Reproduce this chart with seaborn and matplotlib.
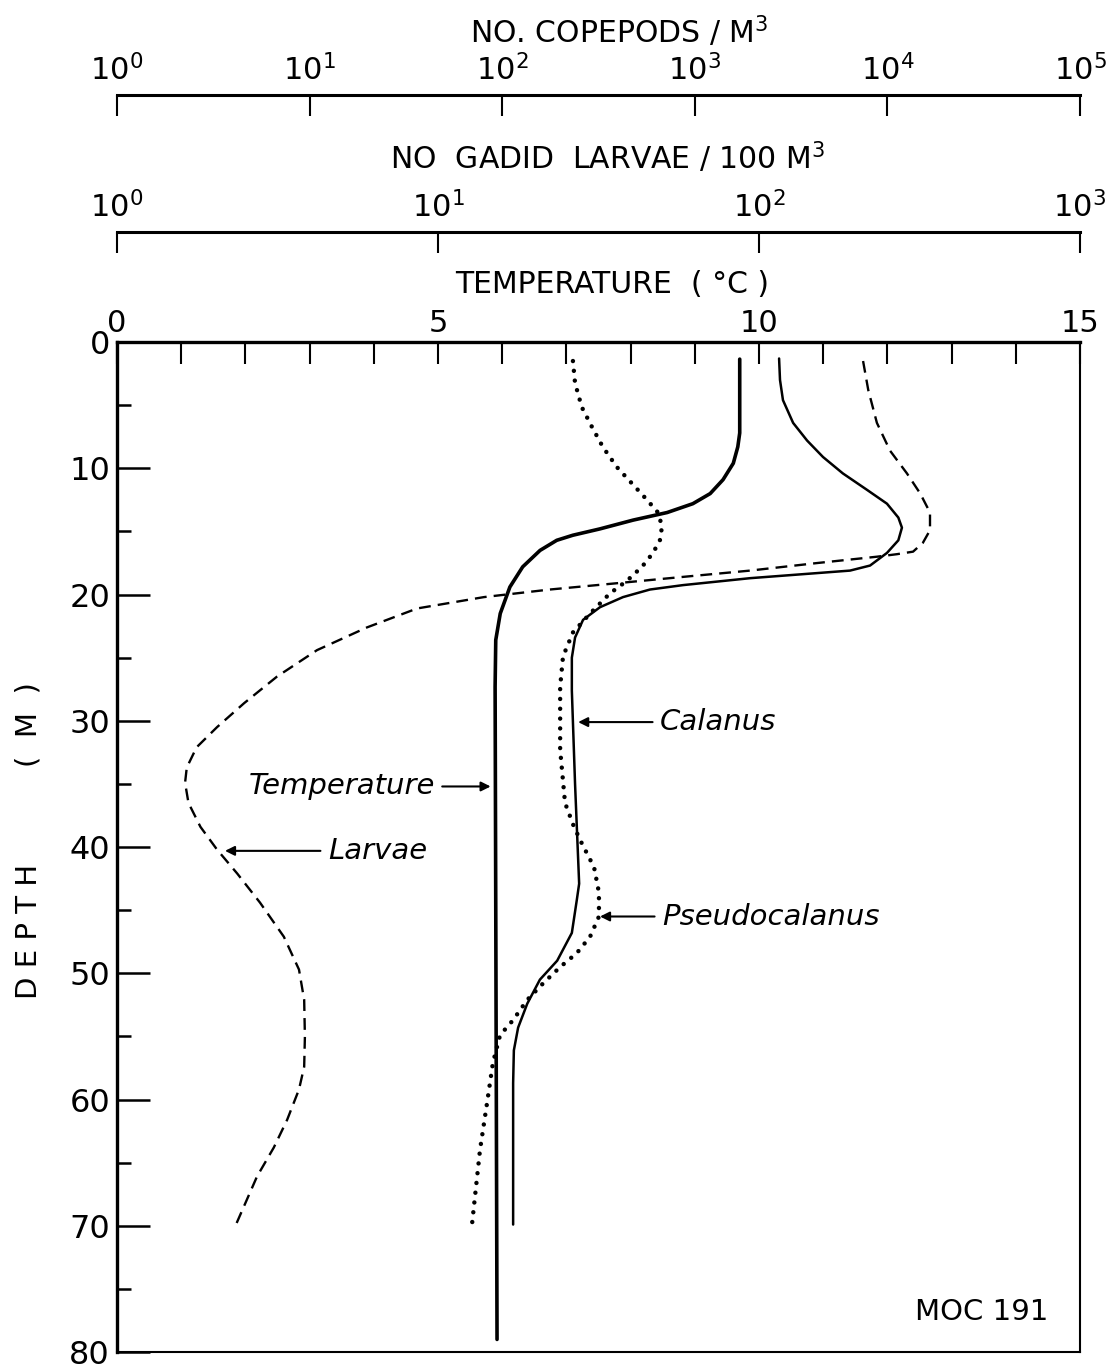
import matplotlib
matplotlib.use("Agg")
import matplotlib.pyplot as plt
from matplotlib.ticker import MultipleLocator, NullLocator, LogLocator
import seaborn as sns

# temperature profile (deg C)
temp_depth = [1.35, 7.2, 8.3, 9.6, 10.9, 12.0, 12.8, 13.5, 14.1, 14.8, 15.3, 15.7, 16.5, 17.8,
              19.4, 21.5, 23.6, 27.3, 79.0]
temp_val = [9.70, 9.70, 9.67, 9.60, 9.44, 9.24, 8.97, 8.57, 8.04, 7.52, 7.10, 6.85, 6.59, 6.32,
            6.12, 5.97, 5.90, 5.89, 5.92]

# Calanus, no. / m3
cal_depth = [1.3, 3.0, 4.6, 6.4, 7.8, 9.1, 10.4, 11.7, 12.8, 13.9, 14.7, 15.7, 16.7, 17.7, 18.1,
             18.3, 18.7, 19.25, 19.6, 20.2, 21.0, 22.0, 23.4, 25.0, 27.6, 35.0, 42.9, 44.2,
             46.8, 49.0, 50.5, 52.4, 54.3, 56.1, 58.7, 69.9]
cal_val = [2740, 2770, 2870, 3240, 3830, 4630, 5870, 7830, 9950, 11400, 11900, 11400, 9950, 8130,
           6400, 4300, 1940, 869, 585, 424, 322, 263, 239, 230, 230, 239, 251, 244,
           230, 193, 157, 135, 121, 115, 114, 114]

# Pseudocalanus, no. / m3
pse_depth = [1.5, 3.25, 5.15, 6.7, 8.3, 9.9, 11.2, 12.5, 13.5, 14.6, 15.7, 16.7, 17.8, 18.9, 19.9,
             21.5, 23.0, 24.9, 27.3, 32.3, 36.5, 38.4, 39.7, 41.6, 43.6, 45.5, 47.1, 48.4, 49.5,
             50.8, 52.1, 53.7, 54.9, 57.1, 60.3, 64.0, 69.9]
pse_val = [233, 239, 259, 292, 333, 394, 472, 565, 644, 676, 659, 607, 532, 445, 363,
           286, 233, 207, 200, 200, 212, 236, 259, 300, 318, 318, 286, 244, 200,
           163, 135, 114, 97.5, 89.5, 83.4, 76.7, 69.7]

# gadid larvae, no. / 100 m3
lar_depth = [1.5, 3.8, 6.4, 8.6, 10.4, 12.0, 13.5, 14.9, 15.9, 16.6, 16.8, 17.0, 17.5, 18.1, 18.6,
             19.1, 19.6, 20.2, 21.1, 22.6, 24.4, 26.5, 28.6, 30.5, 32.1, 33.7, 34.9, 36.5, 38.4,
             40.2, 42.1, 44.4, 47.1, 49.7, 52.1, 55.0, 57.4, 59.2, 61.6, 63.8, 66.1, 70.1]
lar_val = [211, 219, 233, 256, 289, 318, 341, 341, 324, 302, 269, 233, 152, 93.8, 57.9,
           36.1, 22.3, 13.9, 8.61, 6.01, 4.20, 3.15, 2.49, 2.05, 1.77, 1.65, 1.63, 1.67, 1.82,
           2.05, 2.37, 2.79, 3.31, 3.69, 3.83, 3.85, 3.83, 3.69, 3.39, 3.08, 2.73, 2.33]

sns.set_theme(style="white", rc={'text.color': 'black', 'xtick.color': 'black',
                                 'ytick.color': 'black', 'axes.labelcolor': 'black'})
plt.rcParams['font.family'] = ['DejaVu Sans']
plt.rcParams['mathtext.fontset'] = 'dejavusans'

fig = plt.figure(figsize=(11.15, 13.7), dpi=100)
ax = fig.add_axes([0.1049, 0.0131, 0.8637, 0.7372])
ax_cop = ax.twiny()
ax_lar = ax.twiny()

ax.set_xlim(0, 15)
ax.set_ylim(80, 0)
ax_cop.set_xscale('log')
ax_cop.set_xlim(1, 1e5)
ax_lar.set_xscale('log')
ax_lar.set_xlim(1, 1e3)

# curves
sns.lineplot(x=temp_val, y=temp_depth, sort=False, estimator=None, ax=ax,
             color='black', lw=2.6, solid_joinstyle='round')
sns.lineplot(x=cal_val, y=cal_depth, sort=False, estimator=None, ax=ax_cop,
             color='black', lw=1.8, solid_joinstyle='round')
sns.lineplot(x=pse_val, y=pse_depth, sort=False, estimator=None, ax=ax_cop,
             color='black', lw=3.2, linestyle=(0, (0.01, 2.2)), dash_capstyle='round')
sns.lineplot(x=lar_val, y=lar_depth, sort=False, estimator=None, ax=ax_lar,
             color='black', lw=1.7, linestyle=(0, (5, 3)))
for a in (ax, ax_cop, ax_lar):
    a.set_xlabel('')
    a.set_ylabel('')
ax.set_ylim(80, 0)

# main axes: temperature on top, depth on the left
ax.xaxis.tick_top()
ax.set_xticks([0, 5, 10, 15])
ax.set_xticklabels(['0', '5', '10', '15'])
ax.xaxis.set_minor_locator(MultipleLocator(1))
ax.tick_params(axis='x', which='both', direction='in', length=16, width=1.5,
               top=True, bottom=False, labelsize=22, pad=3)
ax.set_yticks(range(0, 81, 10))
ax.yaxis.set_minor_locator(MultipleLocator(5))
ax.tick_params(axis='y', which='major', direction='in', length=24, width=1.8,
               left=True, right=False, labelsize=23, pad=5)
ax.tick_params(axis='y', which='minor', direction='in', length=10, width=1.8,
               left=True, right=False)
for s in ('top', 'left'):
    ax.spines[s].set_linewidth(2.4)
for s in ('bottom', 'right'):
    ax.spines[s].set_linewidth(1.5)
for s in ax.spines.values():
    s.set_color('black')

# log scales stacked above the plot
for a, pos in ((ax_cop, 1.2446), (ax_lar, 1.1089)):
    for s in ('bottom', 'left', 'right'):
        a.spines[s].set_visible(False)
    a.spines['top'].set_position(('axes', pos))
    a.spines['top'].set_linewidth(2.2)
    a.spines['top'].set_color('black')
    a.xaxis.set_major_locator(LogLocator(base=10, numticks=10))
    a.xaxis.set_minor_locator(NullLocator())
    a.tick_params(axis='x', which='major', direction='in', length=15, width=1.5,
                  top=True, bottom=False, labelsize=22, pad=6)

fig.text(0.555, 0.9766, 'NO. COPEPODS / M$^3$', ha='center', va='center', fontsize=21.5)
fig.text(0.545, 0.8847, 'NO  GADID  LARVAE / 100 M$^3$', ha='center', va='center', fontsize=21.5)
fig.text(0.549, 0.792, 'TEMPERATURE  ( °C )', ha='center', va='center', fontsize=21.5)
fig.text(0.026, 1 - 931 / 1370, 'D E P T H', rotation=90, ha='center', va='center', fontsize=21)
fig.text(0.026, 1 - 725 / 1370, '(  M  )', rotation=90, ha='center', va='center', fontsize=21)

arrow = dict(arrowstyle='-|>', color='black', lw=1.5, mutation_scale=14, shrinkA=3, shrinkB=0)
ax_cop.annotate('Calanus', xy=(248, 30.1), xytext=(660, 30.1), ha='left', va='center',
                fontsize=21, fontstyle='italic', arrowprops=arrow)
ax_cop.annotate('Pseudocalanus', xy=(322, 45.5), xytext=(676, 45.5), ha='left', va='center',
                fontsize=21, fontstyle='italic', arrowprops=arrow)
ax.annotate('Temperature', xy=(5.82, 35.2), xytext=(4.95, 35.2), ha='right', va='center',
            fontsize=21, fontstyle='italic', arrowprops=arrow)
ax_lar.annotate('Larvae', xy=(2.17, 40.3), xytext=(4.54, 40.3), ha='left', va='center',
                fontsize=21, fontstyle='italic', arrowprops=arrow)
ax.text(12.43, 76.8, 'MOC 191', ha='left', va='center', fontsize=21)

fig.savefig('out.png', dpi=100, facecolor='white')
